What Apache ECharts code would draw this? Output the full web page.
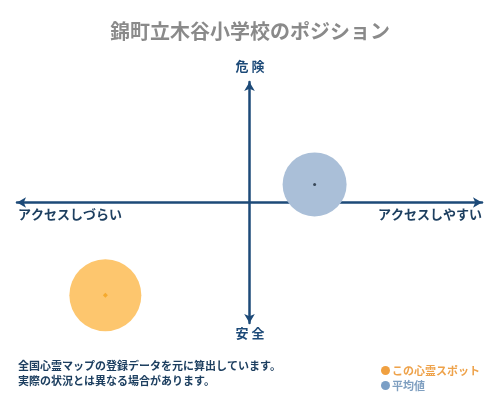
<!DOCTYPE html>
<html>
<head>
<meta charset="utf-8">
<script src="https://cdn.jsdelivr.net/npm/echarts@6/dist/echarts.min.js"></script>
<style>
  html, body { margin: 0; padding: 0; background: #fff; }
  #main { width: 500px; height: 400px; }
</style>
</head>
<body>
<div id="main"></div>
<script>
const FONT = '"Noto Sans CJK JP", sans-serif';

// positions on a -100..100 scale (x: access, y: danger)
const seriesNames = ['この心霊スポット', '平均値'];
const spotPoint = [-62, -77];
const avgPoint = [28, 15];
const notes = ['全国心霊マップの登録データを元に算出しています。', '実際の状況とは異なる場合があります。'];

const chart = echarts.init(document.getElementById('main'));

const axisStyle = {
  type: 'value',
  min: -100,
  max: 100,
  axisLine: {
    show: true,
    onZero: true,
    symbol: ['arrow', 'arrow'],
    symbolSize: [8, 9],
    lineStyle: { color: '#1d4a78', width: 2.5 }
  },
  axisTick: { show: false },
  axisLabel: { show: false },
  splitLine: { show: false }
};

var option = {
  backgroundColor: '#ffffff',
  animation: false,
  title: {
    text: '錦町立木谷小学校のポジション',
    left: 'center',
    top: 16,
    textStyle: { fontFamily: FONT, fontSize: 20, fontWeight: 'bold', color: '#8a8a8a' }
  },
  grid: { left: 17, right: 18, top: 82, bottom: 77 },
  xAxis: axisStyle,
  yAxis: axisStyle,
  legend: {
    orient: 'vertical',
    left: 376,
    top: 360,
    itemWidth: 9,
    itemHeight: 9,
    itemGap: 4,
    icon: 'circle',
    data: [
      { name: seriesNames[0], itemStyle: { color: '#f0a040' }, textStyle: { color: '#eea24a' } },
      { name: seriesNames[1], itemStyle: { color: '#7b9fc6' }, textStyle: { color: '#7f9fc0' } }
    ],
    textStyle: { fontFamily: FONT, fontSize: 11, fontWeight: 'bold', padding: [0, 0, 0, -3] }
  },
  graphic: [
    { type: 'text', left: 'center', top: 60, style: { text: '危 険', font: 'bold 13px ' + FONT, fill: '#1d4a78' } },
    { type: 'text', left: 'center', top: 327, style: { text: '安 全', font: 'bold 13px ' + FONT, fill: '#1d4a78' } },
    { type: 'text', left: 18, top: 208, style: { text: 'アクセスしづらい', font: 'bold 13px ' + FONT, fill: '#1d3f60' } },
    { type: 'text', right: 18, top: 208, style: { text: 'アクセスしやすい', font: 'bold 13px ' + FONT, fill: '#1d3f60' } },
    { type: 'text', left: 18, top: 360, style: { text: notes[0], font: 'bold 11px ' + FONT, fill: '#1d3f60' } },
    { type: 'text', left: 18, top: 375, style: { text: notes[1], font: 'bold 11px ' + FONT, fill: '#1d3f60' } }
  ],
  series: [
    {
      name: seriesNames[0],
      type: 'scatter',
      symbolSize: 72,
      itemStyle: { color: '#fdc66e', opacity: 1 },
      data: [spotPoint]
    },
    {
      name: seriesNames[1],
      type: 'scatter',
      symbolSize: 64,
      itemStyle: { color: '#aabfd8', opacity: 1 },
      data: [avgPoint]
    },
    {
      name: 'spotDot',
      type: 'scatter',
      symbol: 'diamond',
      symbolSize: 5,
      itemStyle: { color: '#f2a21e' },
      data: [spotPoint]
    },
    {
      name: 'avgDot',
      type: 'scatter',
      symbolSize: 3,
      itemStyle: { color: '#1d2a3a' },
      data: [avgPoint]
    }
  ]
};

chart.setOption(option);
</script>
</body>
</html>
